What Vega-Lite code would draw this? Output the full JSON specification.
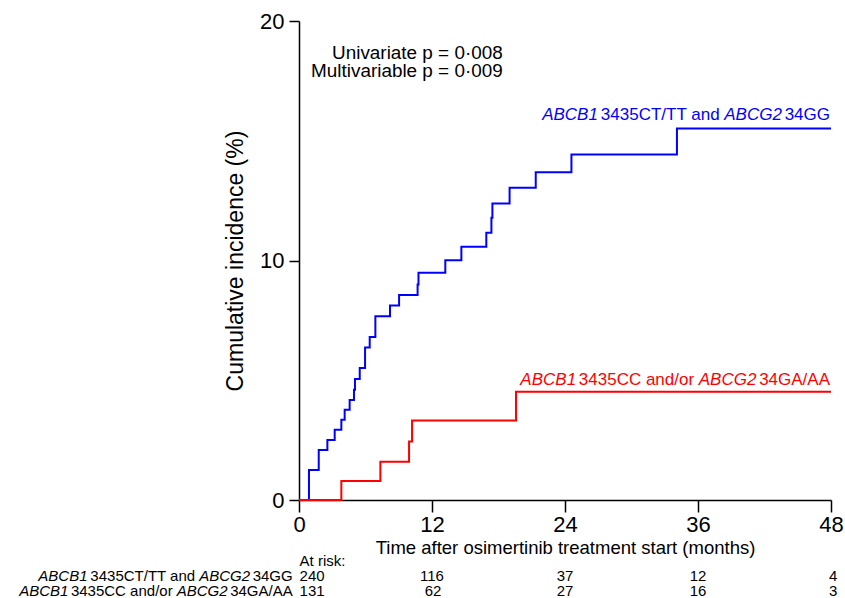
{
  "$schema": "https://vega.github.io/schema/vega-lite/v6.json",
  "autosize": {"type": "none"},
  "padding": {"left": 299, "top": 21, "right": 14, "bottom": 98},
  "width": 532,
  "height": 479,
  "background": "white",
  "config": {
    "font": "Liberation Sans",
    "view": {"stroke": null},
    "axis": {
      "grid": false,
      "domainColor": "#000000",
      "domainWidth": 1.5,
      "tickColor": "#000000",
      "tickWidth": 1.5,
      "labelColor": "#000000",
      "titleColor": "#000000",
      "titleFontWeight": "normal",
      "labelFont": "Liberation Sans",
      "titleFont": "Liberation Sans"
    }
  },
  "datasets": {
    "curves": [
      {"series": "a", "t": 0, "ci": 0},
      {"series": "a", "t": 0.9, "ci": 1.25},
      {"series": "a", "t": 1.78, "ci": 2.09},
      {"series": "a", "t": 2.56, "ci": 2.51},
      {"series": "a", "t": 3.22, "ci": 2.93},
      {"series": "a", "t": 3.82, "ci": 3.35},
      {"series": "a", "t": 4.12, "ci": 3.77},
      {"series": "a", "t": 4.57, "ci": 4.18},
      {"series": "a", "t": 4.96, "ci": 4.6},
      {"series": "a", "t": 5.05, "ci": 5.05},
      {"series": "a", "t": 5.48, "ci": 5.51},
      {"series": "a", "t": 5.96, "ci": 6.37},
      {"series": "a", "t": 6.38, "ci": 6.81},
      {"series": "a", "t": 6.89, "ci": 7.67},
      {"series": "a", "t": 8.21, "ci": 8.12},
      {"series": "a", "t": 9.03, "ci": 8.56},
      {"series": "a", "t": 10.7, "ci": 9.0},
      {"series": "a", "t": 10.78, "ci": 9.49},
      {"series": "a", "t": 13.2, "ci": 10.01},
      {"series": "a", "t": 14.65, "ci": 10.57},
      {"series": "a", "t": 16.9, "ci": 11.16},
      {"series": "a", "t": 17.36, "ci": 11.79},
      {"series": "a", "t": 17.45, "ci": 12.38},
      {"series": "a", "t": 19.0, "ci": 13.04},
      {"series": "a", "t": 21.36, "ci": 13.69},
      {"series": "a", "t": 24.58, "ci": 14.43},
      {"series": "a", "t": 34.1, "ci": 15.51},
      {"series": "a", "t": 48, "ci": 15.51},
      {"series": "b", "t": 0, "ci": 0},
      {"series": "b", "t": 3.82, "ci": 0.79},
      {"series": "b", "t": 7.34, "ci": 1.6},
      {"series": "b", "t": 9.93, "ci": 2.44},
      {"series": "b", "t": 10.2, "ci": 3.32},
      {"series": "b", "t": 19.58, "ci": 4.52},
      {"series": "b", "t": 48, "ci": 4.52}
    ],
    "pvals": [
      {"t": 18.38, "ci": 18.4, "label": "Univariate p = 0·008"},
      {"t": 18.38, "ci": 17.67, "label": "Multivariable p = 0·009"}
    ],
    "curveLabelsNormal": [
      {"series": "a", "t": 47.91, "ci": 15.87, "label": "34GG"},
      {"series": "a", "t": 37.95, "ci": 15.87, "label": "3435CT/TT and"},
      {"series": "b", "t": 47.91, "ci": 4.8, "label": "34GA/AA"},
      {"series": "b", "t": 35.65, "ci": 4.8, "label": "3435CC and/or"}
    ],
    "curveLabelsItalic": [
      {"series": "a", "t": 43.57, "ci": 15.87, "label": "ABCG2"},
      {"series": "a", "t": 26.97, "ci": 15.87, "label": "ABCB1"},
      {"series": "b", "t": 41.27, "ci": 4.8, "label": "ABCG2"},
      {"series": "b", "t": 25.0, "ci": 4.8, "label": "ABCB1"}
    ],
    "rowLabelsNormal": [
      {"t": -0.568, "ci": -3.173, "label": "34GG"},
      {"t": -9.37, "ci": -3.173, "label": "3435CT/TT and"},
      {"t": -0.568, "ci": -3.8, "label": "34GA/AA"},
      {"t": -11.4, "ci": -3.8, "label": "3435CC and/or"}
    ],
    "rowLabelsItalic": [
      {"t": -4.41, "ci": -3.173, "label": "ABCG2"},
      {"t": -19.08, "ci": -3.173, "label": "ABCB1"},
      {"t": -6.44, "ci": -3.8, "label": "ABCG2"},
      {"t": -20.8, "ci": -3.8, "label": "ABCB1"}
    ],
    "riskLeft": [
      {"t": 0.05, "ci": -2.547, "label": "At risk:"},
      {"t": 0.05, "ci": -3.173, "label": "240"},
      {"t": 0.05, "ci": -3.8, "label": "131"}
    ],
    "riskNumbers": [
      {"t": 12, "ci": -3.173, "label": "116"},
      {"t": 24, "ci": -3.173, "label": "37"},
      {"t": 36, "ci": -3.173, "label": "12"},
      {"t": 48.2, "ci": -3.173, "label": "4"},
      {"t": 12.1, "ci": -3.8, "label": "62"},
      {"t": 24, "ci": -3.8, "label": "27"},
      {"t": 36, "ci": -3.8, "label": "16"},
      {"t": 48.2, "ci": -3.8, "label": "3"}
    ]
  },
  "encoding": {
    "x": {
      "field": "t",
      "type": "quantitative",
      "scale": {"domain": [0, 48], "nice": false, "zero": false},
      "axis": {
        "values": [0, 12, 24, 36, 48],
        "title": "Time after osimertinib treatment start (months)",
        "titleFontSize": 18.5,
        "titlePadding": 3,
        "labelFontSize": 22,
        "labelPadding": 2,
        "tickSize": 12,
        "labelFlush": false
      }
    },
    "y": {
      "field": "ci",
      "type": "quantitative",
      "scale": {"domain": [0, 20], "nice": false, "zero": false},
      "axis": {
        "values": [0, 10, 20],
        "title": "Cumulative incidence (%)",
        "titleFontSize": 23,
        "titlePadding": 12,
        "labelFontSize": 22,
        "labelPadding": 5,
        "tickSize": 10,
        "labelFlush": false
      }
    }
  },
  "layer": [
    {
      "data": {"name": "curves"},
      "mark": {"type": "line", "interpolate": "step-after", "strokeWidth": 2},
      "encoding": {
        "color": {
          "field": "series",
          "type": "nominal",
          "scale": {"domain": ["a", "b"], "range": ["#0000ff", "#ff0000"]},
          "legend": null
        }
      }
    },
    {
      "data": {"name": "pvals"},
      "mark": {"type": "text", "align": "right", "baseline": "alphabetic", "fontSize": 18.9, "color": "#000000"},
      "encoding": {"text": {"field": "label"}}
    },
    {
      "data": {"name": "curveLabelsNormal"},
      "mark": {"type": "text", "align": "right", "baseline": "alphabetic", "fontSize": 17},
      "encoding": {
        "text": {"field": "label"},
        "color": {"field": "series", "type": "nominal", "legend": null}
      }
    },
    {
      "data": {"name": "curveLabelsItalic"},
      "mark": {"type": "text", "align": "right", "baseline": "alphabetic", "fontSize": 17, "fontStyle": "italic"},
      "encoding": {
        "text": {"field": "label"},
        "color": {"field": "series", "type": "nominal", "legend": null}
      }
    },
    {
      "data": {"name": "rowLabelsNormal"},
      "mark": {"type": "text", "align": "right", "baseline": "middle", "fontSize": 15, "color": "#000000"},
      "encoding": {"text": {"field": "label"}}
    },
    {
      "data": {"name": "rowLabelsItalic"},
      "mark": {"type": "text", "align": "right", "baseline": "middle", "fontSize": 15, "fontStyle": "italic", "color": "#000000"},
      "encoding": {"text": {"field": "label"}}
    },
    {
      "data": {"name": "riskLeft"},
      "mark": {"type": "text", "align": "left", "baseline": "middle", "fontSize": 15, "color": "#000000"},
      "encoding": {"text": {"field": "label"}}
    },
    {
      "data": {"name": "riskNumbers"},
      "mark": {"type": "text", "align": "center", "baseline": "middle", "fontSize": 15, "color": "#000000"},
      "encoding": {"text": {"field": "label"}}
    }
  ]
}
